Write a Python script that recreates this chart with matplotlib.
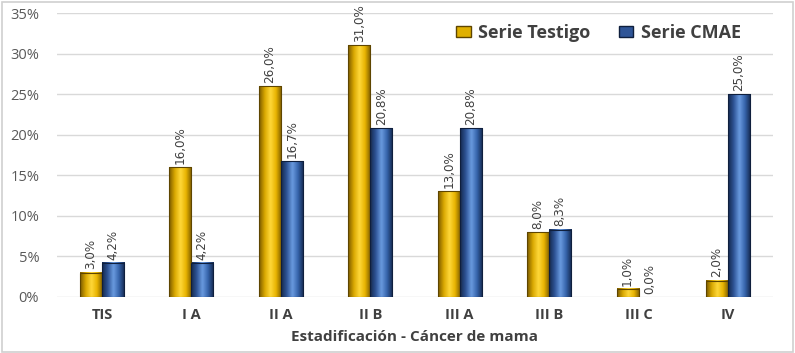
import numpy as np
import matplotlib.pyplot as plt
from matplotlib.colors import LinearSegmentedColormap
from matplotlib.patches import Rectangle

categorias = ["TIS", "I A", "II A", "II B", "III A", "III B", "III C", "IV"]
testigo = [3.0, 16.0, 26.0, 31.0, 13.0, 8.0, 1.0, 2.0]
cmae = [4.2, 4.2, 16.7, 20.8, 20.8, 8.3, 0.0, 25.0]
series = ["Serie Testigo", "Serie CMAE"]

oro = LinearSegmentedColormap.from_list("oro", ["#7a5a00", "#d9a800", "#ffd83a", "#e8b400", "#7a5a00"])
azul = LinearSegmentedColormap.from_list("azul", ["#14284d", "#2f5597", "#6a9be0", "#3563aa", "#14284d"])

fig = plt.figure(figsize=(7.95, 3.53), dpi=100)
ax = fig.add_axes([0.072, 0.159, 0.9, 0.804])
fig.patches.append(Rectangle((0.002, 0.003), 0.995, 0.992, transform=fig.transFigure,
                             fill=False, edgecolor="#d0d0d0", lw=1.2))

x = np.arange(len(categorias))
w = 0.246
grad = np.linspace(0, 1, 64).reshape(1, -1)

def barras(valores, desplaz, cmap, borde):
    for xi, v in zip(x, valores):
        x0 = xi + desplaz - w / 2
        if v > 0:
            ax.imshow(grad, extent=[x0, x0 + w, 0, v], aspect="auto", cmap=cmap,
                      zorder=3, interpolation="bicubic")
            ax.add_patch(Rectangle((x0, 0), w, v, fill=False, edgecolor=borde, lw=0.8, zorder=4))
        ax.text(xi + desplaz, v + 0.4, f"{v:.1f}%".replace(".", ","), rotation=90,
                ha="center", va="bottom", fontsize=9.5, color="#404040",
                fontfamily="DejaVu Sans", fontstretch="condensed", zorder=5)

barras(testigo, -w / 2, oro, "#5e4500")
barras(cmae, w / 2, azul, "#0f1f3d")

ax.set_xlim(-0.5, len(categorias) - 0.5)
ax.set_ylim(0, 35)
ax.set_yticks(range(0, 36, 5))
ax.set_yticklabels([f"{t}%" for t in range(0, 36, 5)], color="#595959", fontsize=10.5,
                   fontfamily="Open Sans")
ax.set_xticks(x)
ax.set_xticklabels(categorias, fontsize=10.5, fontweight="bold", color="#404040",
                   fontfamily="Open Sans")
ax.tick_params(length=0, pad=8)
ax.tick_params(axis="y", pad=13)
ax.grid(axis="y", color="#d9d9d9", lw=1)
ax.set_axisbelow(True)
for s in ax.spines.values():
    s.set_visible(False)
ax.set_xlabel("Estadificación - Cáncer de mama", fontsize=11, fontweight="bold",
              color="#404040", fontfamily="Open Sans", labelpad=6)

h1 = Rectangle((0, 0), 1, 1, facecolor="#e0b000", edgecolor="#5e4500")
h2 = Rectangle((0, 0), 1, 1, facecolor="#2f5597", edgecolor="#0f1f3d")
leg = ax.legend([h1, h2], series, loc="upper right", bbox_to_anchor=(0.978, 1.018), ncol=2,
                frameon=False, handlelength=0.8, handleheight=0.55, columnspacing=1.6,
                handletextpad=0.4,
                prop={"family": "Open Sans", "weight": "bold", "size": 13})
for t in leg.get_texts():
    t.set_color("#404040")

fig.savefig("out.png", dpi=100)
